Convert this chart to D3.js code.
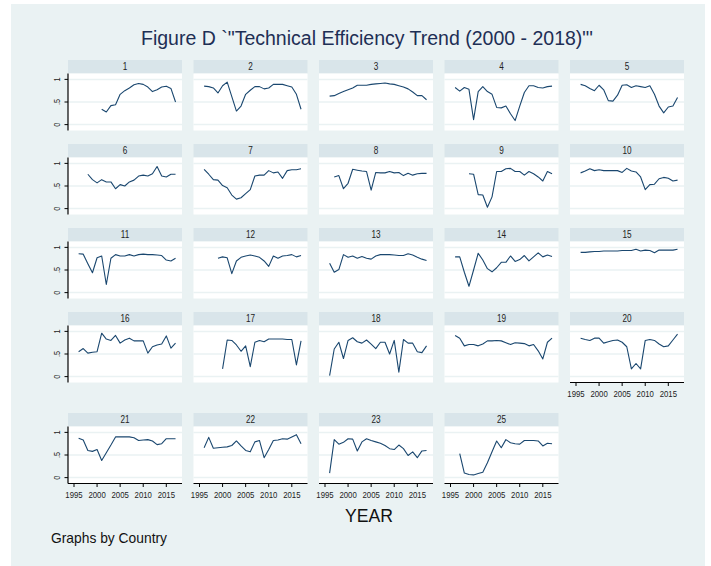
<!DOCTYPE html>
<html>
<head>
<meta charset="utf-8">
<script src="https://cdn.jsdelivr.net/npm/d3@7"></script>
<style>
  html, body { margin: 0; padding: 0; background: #ffffff; }
  text { font-family: "Liberation Sans", Arial, sans-serif; }
</style>
</head>
<body>
<svg id="chart" width="711" height="566"></svg>
<script>
// panel labels (Country) and first year with data
var countries = ["1", "2", "3", "4", "5", "6", "7", "8", "9", "10", "11", "12",
                 "13", "14", "15", "16", "17", "18", "19", "20", "21", "22", "23", "25"];
var startYears = [2001, 1996, 1996, 1996, 1996, 1998, 1996, 1997, 1999, 1996, 1996, 1999,
                  1996, 1996, 1996, 1996, 2000, 1996, 1996, 1996, 1996, 1996, 1996, 1997];

// technical efficiency by country, one value per year from startYear
var te1 = [0.34, 0.28, 0.42, 0.44, 0.67, 0.75, 0.81, 0.88, 0.91, 0.89, 0.83, 0.73, 0.77, 0.83, 0.85, 0.80, 0.50];
var te2 = [0.85, 0.84, 0.81, 0.70, 0.86, 0.94, 0.62, 0.30, 0.41, 0.67, 0.76, 0.84, 0.84, 0.79, 0.81, 0.89, 0.89, 0.89, 0.86, 0.83, 0.67, 0.34];
var te3 = [0.63, 0.64, 0.69, 0.73, 0.77, 0.81, 0.87, 0.87, 0.87, 0.89, 0.90, 0.91, 0.92, 0.90, 0.89, 0.86, 0.83, 0.79, 0.72, 0.64, 0.64, 0.55];
var te4 = [0.82, 0.74, 0.82, 0.78, 0.11, 0.73, 0.84, 0.73, 0.67, 0.38, 0.37, 0.41, 0.24, 0.09, 0.41, 0.71, 0.86, 0.86, 0.82, 0.81, 0.84, 0.85];
var te5 = [0.89, 0.86, 0.80, 0.75, 0.87, 0.77, 0.53, 0.52, 0.65, 0.87, 0.88, 0.82, 0.86, 0.84, 0.82, 0.86, 0.67, 0.41, 0.26, 0.39, 0.41, 0.60];
var te6 = [0.76, 0.64, 0.57, 0.64, 0.59, 0.59, 0.44, 0.53, 0.50, 0.59, 0.63, 0.72, 0.74, 0.72, 0.77, 0.93, 0.72, 0.70, 0.76, 0.76];
var te7 = [0.87, 0.76, 0.64, 0.63, 0.51, 0.46, 0.30, 0.21, 0.24, 0.33, 0.42, 0.72, 0.74, 0.74, 0.84, 0.79, 0.81, 0.67, 0.84, 0.86, 0.86, 0.88];
var te8 = [0.70, 0.73, 0.44, 0.56, 0.87, 0.85, 0.83, 0.82, 0.41, 0.80, 0.79, 0.79, 0.82, 0.79, 0.80, 0.73, 0.78, 0.74, 0.77, 0.78, 0.78];
var te9 = [0.77, 0.76, 0.31, 0.30, 0.03, 0.26, 0.82, 0.82, 0.88, 0.89, 0.82, 0.82, 0.74, 0.82, 0.77, 0.70, 0.61, 0.82, 0.77];
var te10 = [0.79, 0.83, 0.88, 0.84, 0.86, 0.84, 0.84, 0.84, 0.84, 0.80, 0.89, 0.83, 0.81, 0.70, 0.42, 0.53, 0.54, 0.66, 0.69, 0.67, 0.61, 0.63];
var te11 = [0.86, 0.85, 0.64, 0.44, 0.77, 0.81, 0.18, 0.76, 0.84, 0.81, 0.81, 0.84, 0.81, 0.84, 0.85, 0.84, 0.84, 0.83, 0.82, 0.72, 0.70, 0.76];
var te12 = [0.76, 0.79, 0.77, 0.42, 0.70, 0.78, 0.81, 0.83, 0.81, 0.78, 0.70, 0.58, 0.81, 0.76, 0.81, 0.82, 0.84, 0.79, 0.82];
var te13 = [0.65, 0.45, 0.51, 0.84, 0.78, 0.81, 0.76, 0.80, 0.76, 0.74, 0.81, 0.84, 0.84, 0.84, 0.83, 0.82, 0.82, 0.86, 0.83, 0.78, 0.74, 0.71];
var te14 = [0.79, 0.79, 0.45, 0.14, 0.50, 0.87, 0.72, 0.53, 0.46, 0.55, 0.67, 0.67, 0.81, 0.69, 0.73, 0.82, 0.70, 0.79, 0.88, 0.79, 0.83, 0.80];
var te15 = [0.89, 0.89, 0.90, 0.91, 0.91, 0.92, 0.92, 0.92, 0.92, 0.93, 0.93, 0.93, 0.96, 0.92, 0.94, 0.93, 0.88, 0.94, 0.94, 0.94, 0.94, 0.96];
var te16 = [0.55, 0.62, 0.52, 0.54, 0.55, 0.96, 0.83, 0.80, 0.91, 0.74, 0.81, 0.85, 0.79, 0.79, 0.79, 0.52, 0.66, 0.70, 0.72, 0.90, 0.63, 0.74];
var te17 = [0.17, 0.81, 0.80, 0.70, 0.56, 0.68, 0.22, 0.76, 0.80, 0.77, 0.83, 0.83, 0.83, 0.83, 0.82, 0.82, 0.26, 0.79];
var te18 = [0.02, 0.61, 0.76, 0.40, 0.80, 0.86, 0.77, 0.74, 0.81, 0.72, 0.62, 0.76, 0.76, 0.50, 0.80, 0.10, 0.82, 0.74, 0.74, 0.55, 0.53, 0.68];
var te19 = [0.91, 0.85, 0.68, 0.71, 0.71, 0.68, 0.72, 0.79, 0.79, 0.80, 0.79, 0.75, 0.71, 0.75, 0.74, 0.73, 0.68, 0.71, 0.57, 0.39, 0.76, 0.85];
var te20 = [0.85, 0.82, 0.80, 0.85, 0.85, 0.74, 0.77, 0.80, 0.81, 0.76, 0.66, 0.17, 0.29, 0.17, 0.80, 0.82, 0.80, 0.72, 0.66, 0.68, 0.81, 0.94];
var te21 = [0.87, 0.83, 0.60, 0.58, 0.62, 0.38, 0.55, 0.72, 0.90, 0.90, 0.90, 0.90, 0.88, 0.82, 0.83, 0.84, 0.81, 0.73, 0.75, 0.86, 0.86, 0.86];
var te22 = [0.66, 0.89, 0.65, 0.66, 0.67, 0.68, 0.71, 0.81, 0.70, 0.60, 0.57, 0.79, 0.82, 0.44, 0.62, 0.82, 0.83, 0.86, 0.85, 0.90, 0.95, 0.75];
var te23 = [0.10, 0.84, 0.74, 0.78, 0.86, 0.85, 0.59, 0.79, 0.86, 0.82, 0.79, 0.76, 0.71, 0.64, 0.62, 0.72, 0.64, 0.49, 0.57, 0.44, 0.59, 0.60];
var te25 = [0.53, 0.10, 0.07, 0.06, 0.09, 0.12, 0.33, 0.57, 0.81, 0.66, 0.84, 0.77, 0.75, 0.74, 0.82, 0.82, 0.82, 0.81, 0.70, 0.76, 0.75];

var seriesValues = [te1, te2, te3, te4, te5, te6, te7, te8, te9, te10, te11, te12,
                    te13, te14, te15, te16, te17, te18, te19, te20, te21, te22, te23, te25];

var xTicks = [1995, 2000, 2005, 2010, 2015];
var yTicks = [0, 0.5, 1];
var yTickLabels = ["0", ".5", "1"];

// layout
var colX = [68, 193.5, 319, 444.5, 570];
var rowTop = [60, 144, 228, 312, 413];
var panelW = 114, stripH = 13.5, plotH = 57;
var squeeze = 0.82; // the reference text is a little condensed

var svg = d3.select("#chart");

svg.append("rect").attr("x", 11).attr("y", 4).attr("width", 694).attr("height", 562)
    .attr("fill", "#eaf2f3");

// text drawn in a condensed group, so the glyphs look like the reference
function label(parent, x, y, str, size, anchor, rotate) {
    var g = parent.append("g")
        .attr("transform", "translate(" + x + "," + y + ")" + (rotate ? " rotate(" + rotate + ")" : "") + " scale(" + squeeze + ",1)");
    return g.append("text").text(str)
        .attr("text-anchor", anchor || "middle")
        .attr("font-size", size)
        .attr("fill", "#222222");
}

svg.append("text")
    .text("Figure D `\"Technical Efficiency Trend (2000 - 2018)\"'")
    .attr("x", 367).attr("y", 45)
    .attr("text-anchor", "middle")
    .attr("font-size", 20)
    .attr("textLength", 452).attr("lengthAdjust", "spacingAndGlyphs")
    .attr("fill", "#1e2f55");

var x = d3.scaleLinear().domain([1993.7, 2018.4]).range([0, panelW]);
var y = d3.scaleLinear().domain([-0.13, 1.13]).range([plotH, 0]);

var line = d3.line()
    .x(function (d) { return x(d.year); })
    .y(function (d) { return y(d.value); });

countries.forEach(function (name, i) {
    var col = i % 5, row = Math.floor(i / 5);
    var g = svg.append("g").attr("transform", "translate(" + colX[col] + "," + rowTop[row] + ")");

    // strip
    g.append("rect").attr("width", panelW).attr("height", stripH).attr("fill", "#d9e5ea");
    label(g, panelW / 2, 10, name, 10);

    var p = g.append("g").attr("transform", "translate(0," + stripH + ")");
    p.append("rect").attr("width", panelW).attr("height", plotH).attr("fill", "#ffffff");

    p.selectAll("line.grid").data(yTicks).enter().append("line")
        .attr("class", "grid")
        .attr("x1", 0).attr("x2", panelW)
        .attr("y1", function (d) { return y(d); }).attr("y2", function (d) { return y(d); })
        .attr("stroke", "#eaf2f3").attr("stroke-width", 1.5);

    var pts = seriesValues[i].map(function (v, k) { return { year: startYears[i] + k, value: v }; });
    p.append("path").datum(pts).attr("d", line)
        .attr("fill", "none").attr("stroke", "#1a476f").attr("stroke-width", 1.1)
        .attr("stroke-linejoin", "round");

    // y axis on the first column
    if (col === 0) {
        p.append("line").attr("x1", 0).attr("x2", 0).attr("y1", 0).attr("y2", plotH)
            .attr("stroke", "#000").attr("stroke-width", 1.2);
        yTicks.forEach(function (t, k) {
            p.append("line").attr("x1", -3.5).attr("x2", 0).attr("y1", y(t)).attr("y2", y(t))
                .attr("stroke", "#000").attr("stroke-width", 1);
            label(p, -8.5, y(t), yTickLabels[k], 9, "middle", -90);
        });
    }

    // x axis where nothing sits below the panel
    var hasBelow = i + 5 < countries.length;
    if (!hasBelow) {
        p.append("line").attr("x1", 0).attr("x2", panelW).attr("y1", plotH).attr("y2", plotH)
            .attr("stroke", "#000").attr("stroke-width", 1.2);
        xTicks.forEach(function (t) {
            p.append("line").attr("x1", x(t)).attr("x2", x(t)).attr("y1", plotH).attr("y2", plotH + 3.5)
                .attr("stroke", "#000").attr("stroke-width", 1);
            label(p, x(t), plotH + 14, String(t), 9.5);
        });
    }
});

svg.append("text").text("YEAR")
    .attr("x", 369).attr("y", 522)
    .attr("text-anchor", "middle").attr("font-size", 19)
    .attr("textLength", 48).attr("lengthAdjust", "spacingAndGlyphs")
    .attr("fill", "#111111");

svg.append("text").text("Graphs by Country")
    .attr("x", 51).attr("y", 543)
    .attr("font-size", 14.5)
    .attr("textLength", 116).attr("lengthAdjust", "spacingAndGlyphs")
    .attr("fill", "#111111");
</script>
</body>
</html>
